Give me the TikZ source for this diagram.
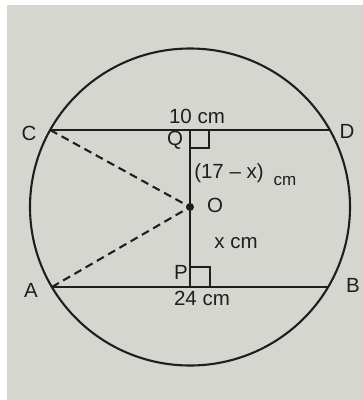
\documentclass[tikz,border=0pt]{standalone}
\usepackage{fontspec}
\setmainfont{Liberation Sans}
\definecolor{paper}{RGB}{214,214,209}
\definecolor{ink}{RGB}{30,30,30}
\begin{document}
\begin{tikzpicture}[x=1pt,y=-1pt,
  geo/.style={draw=ink,line width=2.1pt},
  dashgeo/.style={draw=ink,line width=2.1pt,dash pattern=on 8pt off 5pt},
  lbl/.style={text=ink,inner sep=0pt,font=\fontsize{20.5}{24}\selectfont},
  smalllbl/.style={text=ink,inner sep=0pt,font=\fontsize{17}{20}\selectfont}]
\useasboundingbox (0,0) rectangle (363,400);
\fill[white] (0,0) rectangle (363,400);
\fill[paper] (7,5) rectangle (363,400);
% points
\coordinate (O) at (190,207);
\coordinate (C) at (50.2,130);
\coordinate (D) at (329.8,130);
\coordinate (A) at (51.9,287);
\coordinate (B) at (328.1,287);
\coordinate (Q) at (190,130);
\coordinate (P) at (190,287);
% circle
\draw[geo] (O) ellipse [x radius=160, y radius=158.5];
% chords
\draw[geo] (C) -- (D);
\draw[geo] (A) -- (B);
% perpendicular
\draw[geo] (Q) -- (P);
% right angle marks
\draw[geo,line width=1.8pt] (Q) ++(0,18) -| ++(19,-18);
\draw[geo,line width=1.8pt] (P) ++(0,-20) -| ++(20,20);
% dashed radii
\draw[dashgeo] (C) -- (O);
\draw[dashgeo] (A) -- (O);
% centre dot
\fill[ink] (O) circle (4);
% labels
\node[lbl] (lC) at (29,133) {C};
\node[lbl] (lD) at (347,131) {D};
\node[lbl] (lA) at (31,290) {A};
\node[lbl] (lB) at (353,285) {B};
\node[lbl] (lQ) at (175,140) {Q};
\node[lbl] (lP) at (181,272) {P};
\node[lbl] (lO) at (215,205) {O};
\node[lbl] (l10) at (197,116) {10 cm};
\node[lbl] (l24) at (202,298) {24 cm};
\node[lbl] (l17) at (229,173) {(17 – x)};
\node[smalllbl] (lcm) at (285,181) {cm};
\node[lbl] (lx) at (236,243) {x cm};
\end{tikzpicture}
\end{document}
